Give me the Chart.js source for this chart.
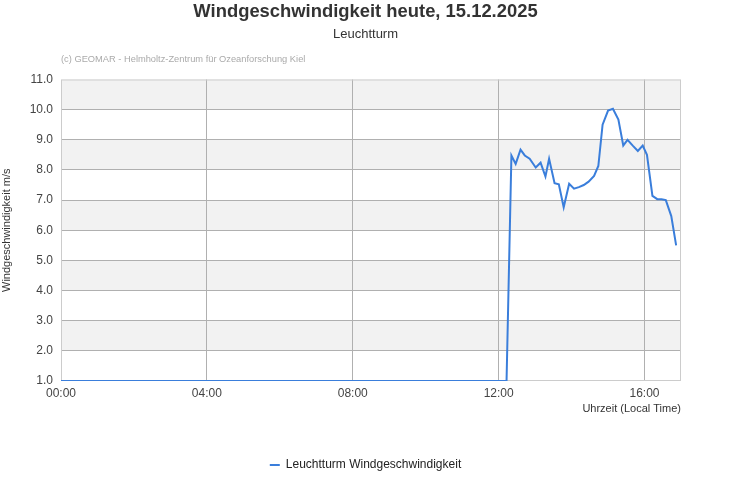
<!DOCTYPE html>
<html>
<head>
<meta charset="utf-8">
<script src="https://cdn.jsdelivr.net/npm/chart.js@4"></script>
<style>
  body { margin: 0; background: #fff; }
  #wind { display: block; }
</style>
</head>
<body>
<canvas id="wind" width="731" height="500"></canvas>
<script>
// Messzeiten (Ortszeit) und Werte in m/s
const zeiten = ['00:00', '12:13', '12:21', '12:28', '12:36', '12:43', '12:51', '13:01', '13:09',
    '13:17', '13:23', '13:32', '13:39', '13:47', '13:56', '14:04', '14:12', '14:20', '14:28',
    '14:37', '14:44', '14:51', '15:00', '15:08', '15:17', '15:25', '15:32', '15:41', '15:49',
    '15:57', '16:04', '16:13', '16:21', '16:28', '16:35', '16:44', '16:52'];
const werte = [1.0, 1.0, 8.48, 8.2, 8.67, 8.48, 8.37, 8.08, 8.24,
    7.78, 8.37, 7.56, 7.52, 6.76, 7.54, 7.38, 7.43, 7.5, 7.61,
    7.8, 8.13, 9.5, 9.97, 10.03, 9.67, 8.81, 9.0, 8.8, 8.63,
    8.81, 8.5, 7.14, 7.03, 7.03, 7.0, 6.47, 5.5];
const xTicks = ['00:00', '04:00', '08:00', '12:00', '16:00'];
const yTicks = [1, 2, 3, 4, 5, 6, 7, 8, 9, 10, 11];

const toMin = s => {
    const [h, m] = s.split(':').map(Number);
    return h * 60 + m;
};
const fmt = v => String(Math.floor(v / 60)).padStart(2, '0') + ':' + String(v % 60).padStart(2, '0');

const font = '"Liberation Sans", Arial, sans-serif';

// graue Baender hinter dem Diagramm + Rahmen + Copyright
const baender = {
    id: 'baender',
    beforeDraw(chart) {
        const { ctx, chartArea: a, scales: { y } } = chart;
        ctx.save();
        ctx.fillStyle = '#f2f2f2';
        for (let v = 11; v > 1; v -= 2) {
            const t = y.getPixelForValue(v), b = y.getPixelForValue(v - 1);
            ctx.fillRect(a.left, t, a.right - a.left, b - t);
        }
        ctx.restore();
    },
    afterDraw(chart) {
        const { ctx, chartArea: a } = chart;
        ctx.save();
        ctx.fillStyle = '#aaaaaa';
        ctx.font = '9.3px ' + font;
        ctx.textBaseline = 'middle';
        ctx.fillText('(c) GEOMAR - Helmholtz-Zentrum für Ozeanforschung Kiel', a.left, a.top - 20);
        ctx.restore();
    },
    beforeDatasetsDraw(chart) {
        const { ctx, chartArea: a } = chart;
        ctx.save();
        ctx.strokeStyle = '#cccccc';
        ctx.lineWidth = 1;
        ctx.strokeRect(a.left + 0.5, a.top + 0.5, a.right - a.left - 1, a.bottom - a.top - 1);
        ctx.restore();
    }
};

const chart = new Chart(document.getElementById('wind'), {
    type: 'line',
    data: {
        datasets: [{
            label: 'Leuchtturm Windgeschwindigkeit',
            data: zeiten.map((z, i) => ({ x: toMin(z), y: werte[i] })),
            borderColor: '#3a7edb',
            backgroundColor: '#3a7edb',
            borderWidth: 2,
            pointRadius: 0,
            tension: 0
        }]
    },
    options: {
        responsive: false,
        animation: false,
        layout: { padding: { left: 0, right: 0, top: 0, bottom: 19 } },
        scales: {
            x: {
                type: 'linear',
                min: 0,
                max: 17 * 60,
                afterBuildTicks: axis => { axis.ticks = xTicks.map(t => ({ value: toMin(t) })); },
                afterFit: axis => { axis.height = 68; },
                ticks: {
                    callback: v => fmt(v),
                    color: '#444',
                    font: { family: font, size: 12 },
                    padding: 5,
                    maxRotation: 0
                },
                grid: {
                    color: c => c.tick && c.tick.value === 0 ? 'rgba(0,0,0,0)' : '#b0b0b0',
                    drawTicks: false
                },
                border: { display: false },
                title: {
                    display: true,
                    text: 'Uhrzeit (Local Time)',
                    align: 'end',
                    color: '#333',
                    font: { family: font, size: 11 },
                    padding: { top: 3, bottom: 33 }
                }
            },
            y: {
                min: 1,
                max: 11,
                afterBuildTicks: axis => { axis.ticks = yTicks.map(v => ({ value: v })); },
                afterFit: axis => { axis.width = 61; },
                ticks: {
                    callback: v => v.toFixed(1),
                    color: '#444',
                    font: { family: font, size: 12 },
                    padding: 8
                },
                grid: {
                    color: c => c.tick && (c.tick.value === 1 || c.tick.value === 11) ? 'rgba(0,0,0,0)' : '#b0b0b0',
                    drawTicks: false
                },
                border: { display: false },
                title: {
                    display: true,
                    text: 'Windgeschwindigkeit m/s',
                    color: '#333',
                    font: { family: font, size: 11 },
                    padding: { top: 0, bottom: 0 }
                }
            },
            // leerer Rand rechts, damit Titel und Legende mittig bleiben
            rand: {
                position: 'right',
                display: true,
                afterFit: axis => { axis.width = 50; },
                ticks: { display: false },
                grid: { display: false },
                border: { display: false }
            }
        },
        plugins: {
            title: {
                display: true,
                text: 'Windgeschwindigkeit heute, 15.12.2025',
                color: '#333',
                font: { family: font, size: 18.4, weight: 'bold' },
                padding: { top: 1, bottom: 0 }
            },
            subtitle: {
                display: true,
                text: 'Leuchtturm',
                color: '#333',
                font: { family: font, size: 13 },
                padding: { top: 4, bottom: 36.8 }
            },
            legend: {
                position: 'bottom',
                labels: {
                    usePointStyle: true,
                    pointStyle: 'line',
                    pointStyleWidth: 10,
                    boxWidth: 10,
                    color: '#222',
                    font: { family: font, size: 12 }
                }
            },
            tooltip: { enabled: false }
        }
    },
    plugins: [baender]
});
</script>
</body>
</html>
